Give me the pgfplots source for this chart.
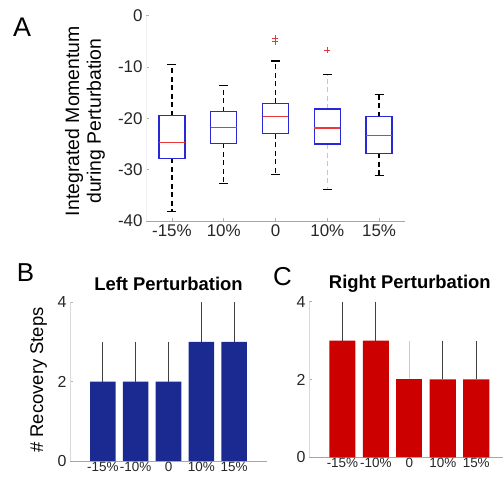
\documentclass[border=0pt]{standalone}
\usepackage{fontspec}
\setmainfont{Liberation Sans}
\usepackage{pgfplots}
\pgfplotsset{compat=1.18}
\usepgfplotslibrary{statistics}
\definecolor{boxblue}{RGB}{40,40,215}
\definecolor{medred}{RGB}{235,55,55}
\definecolor{barblue}{RGB}{26,42,145}
\definecolor{barred}{RGB}{205,0,0}
\begin{document}
\begin{tikzpicture}
\path[use as bounding box] (0,0) rectangle (503bp,480bp);
% ---------------- Panel A ----------------
\begin{axis}[
  at={(146bp,259bp)}, anchor=south west, scale only axis,
  width=259bp, height=205.3bp,
  xmin=0.5, xmax=5.5, ymin=-40, ymax=0,
  axis x line*=bottom, axis y line*=left,
  x axis line style={gray!70,-}, y axis line style={gray!12,-},
  xtick={1,2,3,4,5}, xticklabels={-15\%,10\%,0,10\%,15\%},
  ytick={-40,-30,-20,-10,0}, yticklabels={-40,-30,-20,-10,0},
  tick style={gray!60, line width=0.6bp}, major tick length=3bp, tick align=inside,
  ticklabel style={font=\fontsize{17}{17}\selectfont, text=black!85},
  every axis y label/.style={at={(axis description cs:-0.2355,0.487)}, rotate=90, anchor=center, align=center,
     font=\fontsize{19.5}{22}\selectfont},
  ylabel={Integrated Momentum\\during Perturbation},
  boxplot/draw direction=y,
  boxplot/box extend=0.5,
  boxplot/whisker extend=0,
  boxplot/every box/.style={draw=boxblue, line width=1.3bp},
  boxplot/every median/.style={draw=medred, line width=1.2bp},
  boxplot/every whisker/.style={black, line width=1.3bp, dash pattern=on 5bp off 3.5bp},
]
\addplot[boxplot prepared={draw position=1, lower whisker=-38.2, lower quartile=-27.8, median=-24.7, upper quartile=-19.5, upper whisker=-9.5}] coordinates {};
\addplot[boxplot prepared={draw position=2, lower whisker=-32.7, lower quartile=-24.9, median=-21.8, upper quartile=-18.7, upper whisker=-13.6}] coordinates {};
\addplot[boxplot prepared={draw position=3, lower whisker=-30.9, lower quartile=-23.0, median=-19.7, upper quartile=-17.1, upper whisker=-8.8},
  mark=+, mark size=3bp, mark options={medred, solid, line width=1bp}] coordinates {(0,-4.4) (0,-5.1)};
\addplot[boxplot prepared={draw position=4, lower whisker=-33.8, lower quartile=-25.0, median=-21.9, upper quartile=-18.2, upper whisker=-11.5},
  boxplot/every whisker/.style={gray!45, line width=1.3bp, dash pattern=on 5bp off 3.5bp},
  mark=+, mark size=3bp, mark options={medred, solid, line width=1bp}] coordinates {(0,-6.7)};
\addplot[boxplot prepared={draw position=5, lower whisker=-31.1, lower quartile=-26.8, median=-23.3, upper quartile=-19.7, upper whisker=-15.4}] coordinates {};
% whisker caps
\addplot[black, line width=1.3bp, forget plot] coordinates {(0.915,-38.2) (1.085,-38.2)};
\addplot[black, line width=1.3bp, forget plot] coordinates {(0.915,-9.5) (1.085,-9.5)};
\addplot[black, line width=1.3bp, forget plot] coordinates {(1.915,-32.7) (2.085,-32.7)};
\addplot[black, line width=1.3bp, forget plot] coordinates {(1.915,-13.6) (2.085,-13.6)};
\addplot[black, line width=1.3bp, forget plot] coordinates {(2.915,-30.9) (3.085,-30.9)};
\addplot[black, line width=1.3bp, forget plot] coordinates {(2.915,-8.8) (3.085,-8.8)};
\addplot[black, line width=1.3bp, forget plot] coordinates {(3.915,-33.8) (4.085,-33.8)};
\addplot[black, line width=1.3bp, forget plot] coordinates {(3.915,-11.5) (4.085,-11.5)};
\addplot[black, line width=1.3bp, forget plot] coordinates {(4.915,-31.1) (5.085,-31.1)};
\addplot[black, line width=1.3bp, forget plot] coordinates {(4.915,-15.4) (5.085,-15.4)};
\end{axis}
% ---------------- Panel B ----------------
\begin{axis}[
  at={(70bp,19bp)}, anchor=south west, scale only axis,
  width=197bp, height=158.7bp,
  xmin=0, xmax=6, ymin=0, ymax=4,
  axis x line*=bottom, axis y line*=left,
  x axis line style={gray!70,-}, y axis line style={gray!30,-},
  xtick={1,2,3,4,5}, xticklabels={-15\%,-10\%,0,10\%,15\%},
  ytick={0,2,4}, yticklabels={0,2,4},
  tick style={gray!60, line width=0.6bp}, major tick length=3bp, tick align=inside,
  xticklabel style={font=\fontsize{13.5}{13.5}\selectfont, text=black!85, inner sep=1bp},
  yticklabel style={font=\fontsize{16}{16}\selectfont, text=black!85},
  every axis y label/.style={at={(axis description cs:-0.16,0.51)}, rotate=90, anchor=center,
     font=\fontsize{18.5}{20}\selectfont},
  ylabel={\# Recovery Steps},
  title={Left Perturbation},
  every axis title/.style={at={(axis description cs:0.5,1)}, anchor=center, yshift=18bp,
     font=\fontsize{18.5}{20}\selectfont\bfseries},
]
\addplot[ybar, bar width=0.78, bar shift=0pt, fill=barblue, draw=none,
  error bars/.cd, y dir=plus, y explicit, error mark=none,
  error bar style={line width=1.2bp, black!75}]
  coordinates {(1,2) +- (0,1) (2,2) +- (0,1) (3,2) +- (0,1) (4,3) +- (0,1) (5,3) +- (0,1)};
\end{axis}
% ---------------- Panel C ----------------
\begin{axis}[
  at={(309bp,22.7bp)}, anchor=south west, scale only axis,
  width=194bp, height=155.6bp,
  xmin=0, xmax=5.8, ymin=0, ymax=4,
  axis x line*=bottom, axis y line*=left,
  x axis line style={gray!70,-}, y axis line style={gray!30,-},
  xtick={1,2,3,4,5}, xticklabels={-15\%,-10\%,0,10\%,15\%},
  ytick={0,2,4}, yticklabels={0,2,4},
  tick style={gray!60, line width=0.6bp}, major tick length=3bp, tick align=inside,
  xticklabel style={font=\fontsize{13.5}{13.5}\selectfont, text=black!85, inner sep=1bp},
  yticklabel style={font=\fontsize{16}{16}\selectfont, text=black!85},
  title={Right Perturbation},
  every axis title/.style={at={(axis description cs:0.52,1)}, anchor=center, yshift=18bp,
     font=\fontsize{18.5}{20}\selectfont\bfseries},
]
\addplot[ybar, bar width=0.78, bar shift=0pt, fill=barred, draw=none,
  error bars/.cd, y dir=plus, y explicit, error mark=none,
  error bar style={line width=1.2bp, black!75}]
  coordinates {(1,3) +- (0,1) (2,3) +- (0,1) (4,2) +- (0,1) (5,2) +- (0,1)};
\addplot[ybar, bar width=0.78, bar shift=0pt, fill=barred, draw=none,
  error bars/.cd, y dir=plus, y explicit, error mark=none,
  error bar style={line width=1.2bp, black!20}]
  coordinates {(3,2) +- (0,1)};
\end{axis}
% panel letters
\node[font=\fontsize{27}{27}\selectfont] at (22bp,453bp) {A};
\node[font=\fontsize{26}{26}\selectfont] at (25.5bp,207bp) {B};
\node[font=\fontsize{26}{26}\selectfont] at (282.5bp,203bp) {C};
\end{tikzpicture}
\end{document}
